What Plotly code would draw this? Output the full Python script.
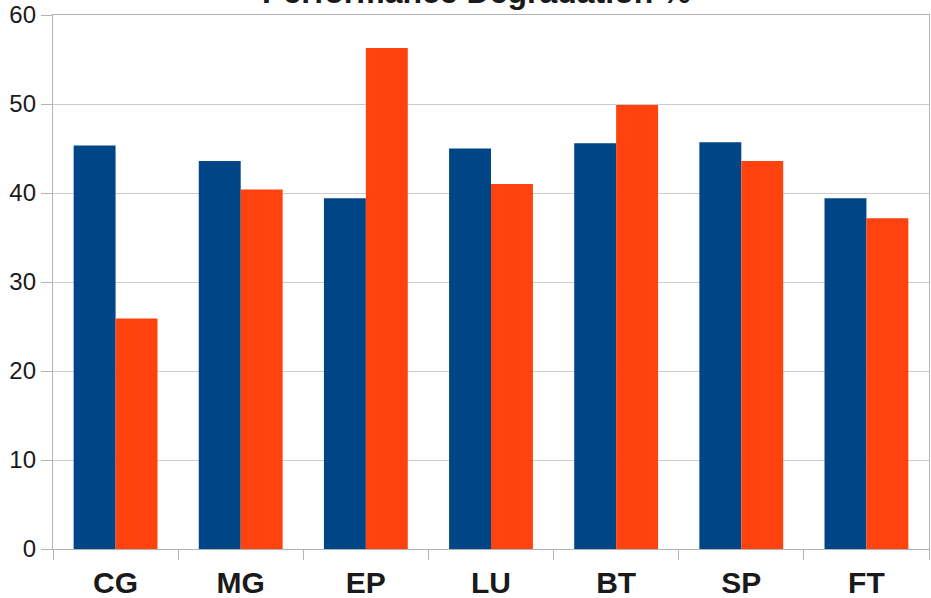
import plotly.graph_objects as go

categories = ["CG", "MG", "EP", "LU", "BT", "SP", "FT"]
series_a_name = "Series A"
series_a = [45.35, 43.6, 39.4, 45.0, 45.6, 45.7, 39.4]
series_b_name = "Performance Degradation %"
series_b = [25.9, 40.4, 56.3, 41.0, 49.9, 43.6, 37.15]
y_ticks = [0, 10, 20, 30, 40, 50, 60]

fig = go.Figure()
fig.add_trace(go.Bar(x=categories, y=series_a, name=series_a_name,
                     marker=dict(color="#004586", line=dict(width=0)),
                     showlegend=False))
fig.add_trace(go.Bar(x=categories, y=series_b, name=series_b_name,
                     marker=dict(color="#ff420e", line=dict(width=0))))

fig.update_layout(
    width=931, height=598,
    margin=dict(l=53, r=2, t=15, b=49, autoexpand=False),
    paper_bgcolor="white", plot_bgcolor="white",
    barmode="group", bargap=0.33, bargroupgap=0,
    font=dict(family="Liberation Sans, Arial, sans-serif", color="#1a1a1a"),
    legend=dict(orientation="h", x=0.4635, xanchor="center", xref="paper",
                y=1.045, yanchor="middle", yref="paper",
                font=dict(size=32, family="Liberation Sans, Arial, sans-serif",
                          color="#1a1a1a", weight="bold"),
                bgcolor="rgba(0,0,0,0)"),
    xaxis=dict(
        showline=True, linecolor="#b3b3b3", linewidth=1.3, mirror=True,
        ticks="outside", ticklen=10, tickcolor="#b3b3b3", tickwidth=1.3,
        tickson="boundaries", showgrid=False, ticklabelstandoff=7,
        tickfont=dict(size=30, weight="bold", color="#1a1a1a"),
    ),
    yaxis=dict(
        range=[0, 60], tickvals=y_ticks,
        showline=True, linecolor="#b3b3b3", linewidth=1.3, mirror=True,
        ticks="outside", ticklen=11, tickcolor="#b3b3b3", tickwidth=1.3,
        showgrid=True, gridcolor="#cccccc", gridwidth=1.3, zeroline=False,
        tickfont=dict(size=24, color="#1a1a1a"),
    ),
)

fig.write_html("out.html",
               config={"displayModeBar": False},
               post_script="document.body.style.margin='0';document.body.style.overflow='hidden';")
